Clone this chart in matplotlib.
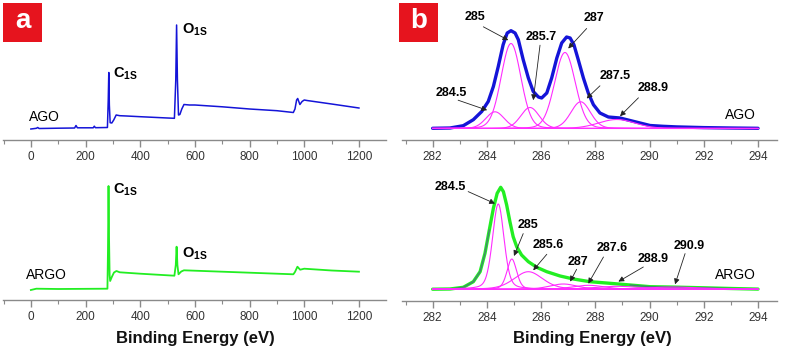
import numpy as np
import matplotlib
import matplotlib.pyplot as plt
from matplotlib.patches import Rectangle
from matplotlib.ticker import MultipleLocator

matplotlib.use('Agg')

plt.rcParams['font.family'] = ['Liberation Sans', 'DejaVu Sans']
plt.rcParams['mathtext.fontset'] = 'custom'
plt.rcParams['mathtext.bf'] = 'Liberation Sans:bold'
plt.rcParams['mathtext.rm'] = 'Liberation Sans'

# survey spectra (binding energy in eV, intensity a.u.)
ago_survey_be = [0, 20, 25, 30, 100, 160, 165, 170, 228, 232, 236, 280, 283, 285, 287, 290,
                 296, 303, 312, 325, 350, 400, 500, 525, 530, 533, 536, 540, 545, 552, 560,
                 580, 600, 700, 800, 900, 960, 966, 972, 976, 984, 992, 1000, 1010, 1100, 1200]
ago_survey_int = [11, 11.7, 12.5, 11.5, 11.8, 12, 14.5, 12.2, 12.2, 13.8, 12.3, 12.5, 40, 67.5, 35, 17.3,
                  17, 20, 25, 24.3, 24, 23.3, 22, 21.7, 60, 115, 60, 25, 25.5, 31, 35.5,
                  35, 35, 33.2, 31, 29.3, 27.5, 31, 40, 41.5, 35.5, 38.5, 40, 39.5, 36, 32]

argo_survey_be = [0, 20, 100, 280, 282, 284, 286, 288, 290, 296, 304, 313, 325, 400, 525, 530,
                  533, 536, 540, 550, 560, 700, 960, 966, 975, 985, 1000, 1100, 1200]
argo_survey_int = [10, 11.3, 11, 11.3, 50, 114, 60, 25, 19, 23, 27.5, 29, 27.7, 26.3, 24.3, 35,
                   53.3, 35, 25.7, 28.5, 29.7, 28.3, 25.7, 28, 33.3, 30.3, 31.3, 29.5, 28.3]

# C1s measured envelopes
ago_c1s_be = [282.0, 282.64, 283.13, 283.5, 283.81, 284.05, 284.24, 284.42, 284.6, 284.75, 284.89,
              285.04, 285.16, 285.34, 285.53, 285.71, 285.9, 286.02, 286.21, 286.39, 286.58,
              286.76, 286.94, 287.07, 287.21, 287.37, 287.56, 287.74, 287.93, 288.17, 288.48,
              288.91, 289.28, 289.65, 290.02, 290.5, 291.0, 292.0, 293.0, 294.0]
ago_c1s_int = [0.2, 0.5, 2.8, 8.8, 17, 27, 42, 62, 83.8, 95.5, 97.8,
               95.5, 88.8, 68.8, 50.5, 37, 31.5, 30.5, 35.5, 50.5, 70.5,
               85.5, 91.5, 90.5, 83.8, 68.8, 50.5, 35.5, 23.8, 15.5, 11.5,
               10.5, 8, 5.5, 3, 2.2, 1.6, 0.9, 0.5, 0.2]

argo_c1s_be = [282.0, 282.64, 283.13, 283.5, 283.75, 283.93, 284.09, 284.24, 284.38, 284.51, 284.61,
               284.73, 284.85, 284.97, 285.1, 285.28, 285.53, 285.84, 286.21, 286.7, 287.19,
               287.8, 288.54, 289.28, 290.02, 290.9, 292.0, 293.0, 294.0]
argo_c1s_int = [0.1, 0.3, 2, 7.6, 17.6, 36, 59.3, 81, 96, 102, 97.6,
                84.3, 67.6, 52.6, 42.6, 34.3, 27.6, 22, 17.6, 13.3, 10.3,
                7.6, 6, 4.3, 2.6, 2.2, 1.5, 0.8, 0.2]

# fitted components (center eV, height, FWHM eV)
ago_centers = [284.3, 284.89, 285.59, 286.88, 287.46, 288.79]
ago_heights = [16.7, 85, 21, 76, 26.7, 9]
ago_fwhm = [0.8, 0.86, 0.8, 0.9, 0.85, 1.6]
ago_labels = ['284.5', '285', '285.7', '287', '287.5', '288.9']

argo_centers = [284.42, 284.92, 285.53, 286.82, 287.75, 288.8, 290.85]
argo_heights = [85.3, 30.3, 17.6, 5.3, 4, 3, 2.2]
argo_fwhm = [0.5, 0.42, 1.25, 1.2, 1.4, 2.0, 2.5]
argo_labels = ['284.5', '285', '285.6', '287', '287.6', '288.9', '290.9']

# label text positions and arrow (start, tip) in data coords
ago_text_xy = [(282.70, 36), (283.56, 111.7), (286.02, 91.7), (287.95, 110.7), (288.75, 52.7), (290.14, 40.7)]
ago_arrows = [((282.94, 28.3), (284.01, 18.3)), ((283.87, 101.7), (284.79, 88.3)),
              ((285.96, 83.3), (285.71, 28.3)), ((287.68, 100), (287.0, 80)),
              ((288.17, 42.7), (287.68, 30)), ((289.59, 30.7), (288.91, 12.3))]
argo_text_xy = [(282.64, 102.3), (285.53, 64.3), (286.27, 44.3), (287.35, 27.7),
                (288.64, 41.7), (290.14, 30), (291.47, 43.3)]
argo_arrows = [((283.31, 97.7), (284.30, 85.7)), ((285.34, 55.7), (285.0, 33.3)),
               ((286.21, 35), (285.71, 19)), ((287.31, 20), (287.07, 7.7)),
               ((288.30, 32.3), (287.74, 5.7)), ((289.77, 22.3), (288.85, 7.7)),
               ((291.31, 35.7), (290.94, 5))]

BLUE = '#1414d8'
GREEN = '#22ee22'
MAGENTA = '#ff2cff'
AXIS_GRAY = '#8a8a8a'
RED = '#e6141e'

W, H = 787, 351


def pv(x, c, h, w, eta):
    d = (x - c) / w
    lor = 1.0 / (1.0 + 4 * d ** 2)
    gau = np.exp(-4 * np.log(2) * d ** 2)
    return h * (eta * lor + (1 - eta) * gau)


def px_axes(fig, x0, y0, x1, y1):
    return fig.add_axes([x0 / W, 1 - y1 / H, (x1 - x0) / W, (y1 - y0) / H])


def style_axis(ax, major, minor):
    for s in ['left', 'right', 'top']:
        ax.spines[s].set_visible(False)
    ax.spines['bottom'].set_color(AXIS_GRAY)
    ax.spines['bottom'].set_linewidth(1.0)
    ax.set_yticks([])
    ax.xaxis.set_major_locator(MultipleLocator(major))
    ax.xaxis.set_minor_locator(MultipleLocator(minor))
    ax.tick_params(axis='x', which='major', direction='out', length=5, width=1.0,
                   color=AXIS_GRAY, labelcolor='#333333', labelsize=8.5, pad=3)
    ax.tick_params(axis='x', which='minor', direction='out', length=3, width=0.8, color=AXIS_GRAY)
    ax.patch.set_alpha(0)


def draw_fit(ax, be, inten, centers, heights, widths, eta, labels, text_xy, arrows,
             env_color, name, name_xy):
    be = np.asarray(be)
    inten = np.asarray(inten)
    ax.plot(be, inten, color=env_color, lw=2.4, zorder=2, solid_joinstyle='round',
            solid_capstyle='round')
    if env_color == GREEN:
        for m in [be <= 284.1, be >= 289.28]:
            ax.plot(be[m], inten[m], color='#4a7a7a', lw=0.9, zorder=3)
    x = np.linspace(282, 294, 1200)
    for c, h, w in zip(centers, heights, widths):
        ax.plot(x, pv(x, c, h, w, eta), color=MAGENTA, lw=0.8, zorder=4)
    for lab, (tx, ty), (start, tip) in zip(labels, text_xy, arrows):
        ax.text(tx, ty, lab, fontsize=9, fontweight='bold', ha='center', va='center', zorder=6)
        ax.annotate('', xy=tip, xytext=start,
                    arrowprops=dict(arrowstyle='-|>', color='#222222', lw=0.6,
                                    mutation_scale=8, shrinkA=0, shrinkB=0), zorder=5)
    ax.text(name_xy[0], name_xy[1], name, fontsize=10, ha='center', va='center')


fig = plt.figure(figsize=(W / 100, H / 100), dpi=100)
fig.patch.set_facecolor('white')

# survey panels
ax1 = px_axes(fig, 3, 0, 386, 140)
ax1.plot(ago_survey_be, ago_survey_int, color=BLUE, lw=1.1)
ax1.set_xlim(-102, 1299)
ax1.set_ylim(0, 140)
style_axis(ax1, 200, 100)
ax1.text(51, 23.3, 'AGO', fontsize=10, ha='center', va='center')
ax1.text(300, 66, r'$\mathbf{C_{1S}}$', fontsize=10.5, ha='left', va='center')
ax1.text(551, 110, r'$\mathbf{O_{1S}}$', fontsize=10.5, ha='left', va='center')

ax2 = px_axes(fig, 3, 160, 386, 300)
ax2.plot(argo_survey_be, argo_survey_int, color=GREEN, lw=1.3)
ax2.set_xlim(-102, 1299)
ax2.set_ylim(0, 140)
style_axis(ax2, 200, 100)
ax2.text(57, 25, 'ARGO', fontsize=10, ha='center', va='center')
ax2.text(300, 110, r'$\mathbf{C_{1S}}$', fontsize=10.5, ha='left', va='center')
ax2.text(551, 46, r'$\mathbf{O_{1S}}$', fontsize=10.5, ha='left', va='center')

# C1s panels
ax3 = px_axes(fig, 402, 0, 777, 140)
ax3.set_xlim(280.87, 294.7)
ax3.set_ylim(-11.5, 128.5)
style_axis(ax3, 2, 1)
draw_fit(ax3, ago_c1s_be, ago_c1s_int, ago_centers, ago_heights, ago_fwhm, 0.1, ago_labels,
         ago_text_xy, ago_arrows, BLUE, 'AGO', (293.34, 13.3))

ax4 = px_axes(fig, 402, 161, 777, 301)
ax4.set_xlim(280.87, 294.7)
ax4.set_ylim(-11.7, 128.3)
style_axis(ax4, 2, 1)
draw_fit(ax4, argo_c1s_be, argo_c1s_int, argo_centers, argo_heights, argo_fwhm, 0.3, argo_labels,
         argo_text_xy, argo_arrows, GREEN, 'ARGO', (293.16, 14.3))

# axis titles
for xc in [195, 592]:
    fig.text(xc / W, 1 - 338 / H, 'Binding Energy (eV)', fontsize=12, fontweight='bold',
             ha='center', va='center', color='#111111')

# panel tags
for x0, tag in [(3, 'a'), (399, 'b')]:
    fig.patches.append(Rectangle((x0 / W, 1 - 42 / H), 39 / W, 39 / H,
                                 transform=fig.transFigure, facecolor=RED, edgecolor='none'))
    fig.text((x0 + 19.5) / W, 1 - 21 / H, tag, fontsize=20, fontweight='bold',
             color='white', ha='center', va='center')

fig.savefig('out.png', dpi=100, facecolor='white')
